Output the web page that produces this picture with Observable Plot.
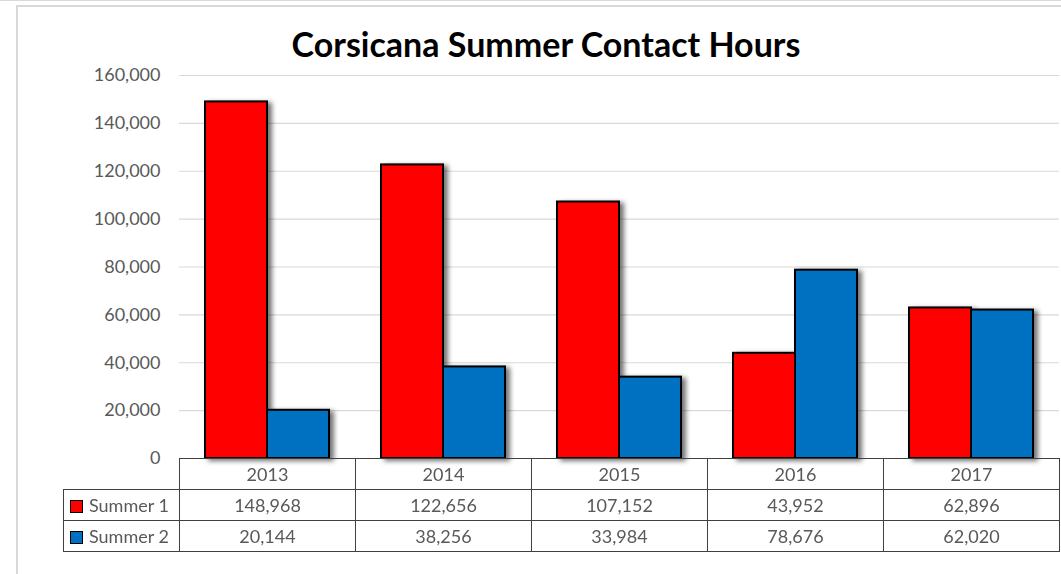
<!DOCTYPE html>
<html>
<head>
<meta charset="utf-8">
<script src="https://cdn.jsdelivr.net/npm/d3@7"></script>
<script src="https://cdn.jsdelivr.net/npm/@observablehq/plot@0.6"></script>
<style>
  html, body { margin: 0; padding: 0; background: #fff; }
  #wrap { position: relative; width: 1061px; height: 574px; overflow: hidden; background: #fff; font-family: Lato, "Open Sans", sans-serif; }
  #topline { position: absolute; left: 0; top: 0; width: 1061px; height: 1px; background: #d9d9d9; }
  #frame { position: absolute; left: 16px; top: 5px; width: 1100px; height: 600px; border-left: 2px solid #d9d9d9; border-top: 2px solid #d9d9d9; }
  #title { position: absolute; left: 0px; width: 1092px; top: 24px; text-align: center; font-weight: 700; font-size: 34px; line-height: 40px; color: #000; }
  #chart { position: absolute; left: 0; top: 0; }
  #chart g[aria-label="bar"] { filter: drop-shadow(4px 2px 2.5px rgba(0,0,0,0.55)); }
  #table { position: absolute; left: 63px; top: 458px; border-collapse: collapse; table-layout: fixed; font-size: 18px; color: #595959; }
  #table td { padding: 0; height: 30px; text-align: center; border: 1px solid #404040; line-height: 30px; white-space: nowrap; }
  #table td.blank { border: none; border-right: 1px solid #404040; border-bottom: 1px solid #404040; }
  #table td.lab { text-align: left; padding-left: 6px; }
  .key { display: inline-block; width: 11px; height: 11px; border: 1px solid #000; margin-right: 6px; vertical-align: -1px; }
</style>
</head>
<body>
<div id="wrap">
  <div id="topline"></div>
  <div id="frame"></div>
  <div id="title"></div>
  <div id="chart"></div>
  <table id="table"></table>
</div>
<script>
const titleText = "Corsicana Summer Contact Hours";
const years = ["2013", "2014", "2015", "2016", "2017"];
const seriesNames = ["Summer 1", "Summer 2"];
const summer1 = [148968, 122656, 107152, 43952, 62896];
const summer2 = [20144, 38256, 33984, 78676, 62020];
const seriesColors = ["#FF0000", "#0070C0"];
const yTicks = [0, 20000, 40000, 60000, 80000, 100000, 120000, 140000, 160000];

const seriesValues = [summer1, summer2];
const rows = [];
seriesNames.forEach((s, si) => {
  years.forEach((y, yi) => rows.push({ year: y, series: s, value: seriesValues[si][yi] }));
});

document.getElementById("title").textContent = titleText;

const fmt = d3.format(",");

const chart = Plot.plot({
  width: 1061,
  height: 574,
  marginLeft: 179,
  marginRight: 2,
  marginTop: 75,
  marginBottom: 116,
  style: { fontFamily: "Lato, 'Open Sans', sans-serif", fontSize: "18px", color: "#595959", background: "transparent", overflow: "visible" },
  fx: { domain: years, padding: 0, axis: null, label: null },
  x: { domain: seriesNames, paddingInner: 0, paddingOuter: 0.4, axis: null, label: null },
  y: { domain: [0, 160000], ticks: 8, tickFormat: fmt, tickSize: 0, tickPadding: 19, label: null },
  color: { domain: seriesNames, range: seriesColors },
  marks: [
    Plot.ruleY(yTicks, { stroke: "#d9d9d9", strokeWidth: 1.2 }),
    Plot.barY(rows, { fx: "year", x: "series", y: "value", fill: "series", stroke: "#000", strokeWidth: 2 })
  ]
});
document.getElementById("chart").appendChild(chart);

// data table under the chart
const table = document.getElementById("table");
const colgroup = document.createElement("colgroup");
const c0 = document.createElement("col"); c0.style.width = "116px"; colgroup.appendChild(c0);
years.forEach(() => { const c = document.createElement("col"); c.style.width = "176px"; colgroup.appendChild(c); });
table.appendChild(colgroup);
const head = document.createElement("tr");
const blank = document.createElement("td"); blank.className = "blank"; head.appendChild(blank);
years.forEach(y => { const td = document.createElement("td"); td.textContent = y; head.appendChild(td); });
table.appendChild(head);
seriesNames.forEach((s, si) => {
  const tr = document.createElement("tr");
  const lab = document.createElement("td"); lab.className = "lab";
  const key = document.createElement("span"); key.className = "key"; key.style.background = seriesColors[si];
  lab.appendChild(key); lab.appendChild(document.createTextNode(s));
  tr.appendChild(lab);
  seriesValues[si].forEach(v => { const td = document.createElement("td"); td.textContent = fmt(v); tr.appendChild(td); });
  table.appendChild(tr);
});
</script>
</body>
</html>
